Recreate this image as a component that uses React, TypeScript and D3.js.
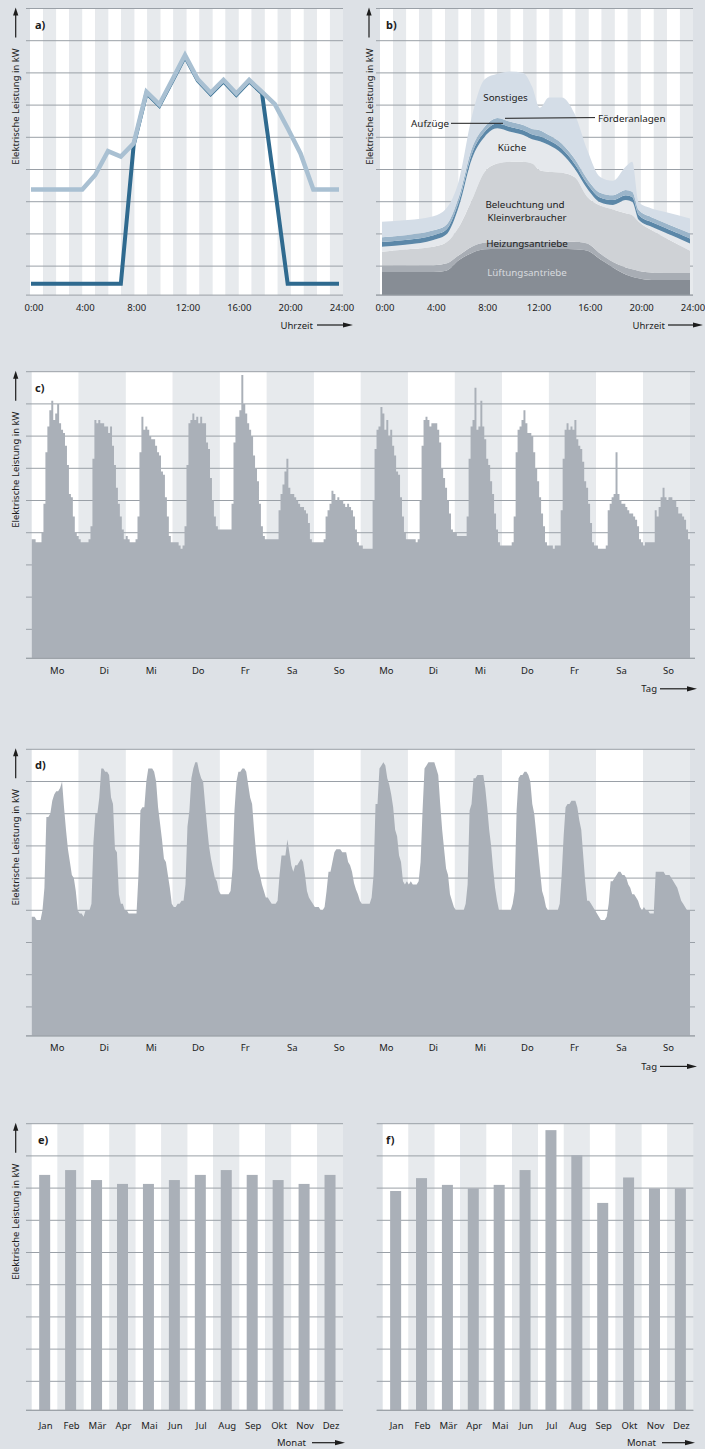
import React from 'react';
import * as d3 from 'd3';

// colours
const BG = '#dde1e6';
const STRIPE = '#e7eaed';
const GRID = '#9aa0a7';
const AREA = '#aab0b8';
const INK = '#1c1c1c';
const FONT = '"Noto Sans", "DejaVu Sans", sans-serif';

const PANEL_H = 286.6; // every plot has the same height
const gridLevels = [0, 0.9, 1.9, 2.9, 3.9, 4.9, 5.9, 6.9, 7.9, 8.9];

// ---------- a) daily profile, hourly ----------
const hoursA = [0, 1, 2, 3, 4, 5, 6, 7, 8, 9, 10, 11, 12, 13, 14, 15, 16, 17, 18, 19, 20, 21, 22, 23, 24];
const loadLight = [3.28, 3.28, 3.28, 3.28, 3.28, 3.73, 4.47, 4.3, 4.71, 6.31, 5.92, 6.68, 7.45, 6.7, 6.28, 6.68, 6.26, 6.68, 6.31, 5.93, 5.18, 4.4, 3.28, 3.28, 3.28];
const loadDark = [0.35, 0.35, 0.35, 0.35, 0.35, 0.35, 0.35, 0.35, 4.66, 6.27, 5.88, 6.64, 7.41, 6.66, 6.24, 6.64, 6.22, 6.64, 6.27, 3.36, 0.35, 0.35, 0.35, 0.35, 0.35];
const hourTicks = [0, 4, 8, 12, 16, 20, 24];
const hourLabels = ['0:00', '4:00', '8:00', '12:00', '16:00', '20:00', '24:00'];

// ---------- b) stacked consumers ----------
const timesB = [0, 2, 4, 5, 6, 7, 8, 9, 10, 11, 11.7, 12.3, 13, 14, 15, 16, 17, 18, 19, 19.5, 20, 21, 22, 24];
const lueftung = [0.72, 0.72, 0.72, 0.76, 1.09, 1.31, 1.42, 1.43, 1.43, 1.43, 1.43, 1.43, 1.43, 1.43, 1.42, 1.38, 1.11, 0.86, 0.64, 0.57, 0.52, 0.47, 0.47, 0.47];
const heizung = [0.21, 0.21, 0.21, 0.22, 0.15, 0.19, 0.21, 0.23, 0.23, 0.23, 0.23, 0.23, 0.23, 0.23, 0.24, 0.22, 0.18, 0.17, 0.22, 0.23, 0.23, 0.23, 0.22, 0.22];
const beleuchtung = [0.42, 0.49, 0.57, 0.65, 0.88, 1.45, 2.2, 2.43, 2.48, 2.48, 2.43, 2.22, 2.17, 2.14, 2.01, 1.45, 1.49, 1.63, 1.68, 1.68, 1.53, 1.32, 1.11, 0.69];
const kueche = [0.15, 0.15, 0.21, 0.25, 0.65, 1.28, 1.09, 1.09, 0.93, 0.83, 0.75, 0.9, 0.83, 0.6, 0.26, 0.25, 0.1, 0.14, 0.41, 0.42, 0.06, 0.1, 0.15, 0.22];
const aufzuege = [0.15, 0.15, 0.15, 0.15, 0.15, 0.15, 0.15, 0.15, 0.15, 0.15, 0.15, 0.15, 0.15, 0.15, 0.15, 0.15, 0.15, 0.15, 0.15, 0.15, 0.15, 0.15, 0.15, 0.16];
const foerder = [0.15, 0.15, 0.15, 0.15, 0.15, 0.17, 0.16, 0.17, 0.16, 0.16, 0.17, 0.19, 0.16, 0.16, 0.16, 0.15, 0.15, 0.15, 0.16, 0.16, 0.15, 0.15, 0.15, 0.16];
const sonstiges = [0.48, 0.46, 0.44, 0.51, 0.5, 0.99, 1.47, 1.37, 1.56, 1.62, 1.31, 0.7, 1.17, 1.43, 1.4, 0.9, 0.49, 0.45, 0.73, 0.93, 0.24, 0.27, 0.34, 0.46];
const layerKeys = ['lueftung', 'heizung', 'beleuchtung', 'kueche', 'aufzuege', 'foerder', 'sonstiges'];
const layerColors = ['#878d95', '#a8adb4', '#cfd2d6', '#e5e8ec', '#5b87a8', '#9bb5ca', '#d4dde7'];

// ---------- c) two weeks, measured (hourly) ----------
const dayLabels = ['Mo', 'Di', 'Mi', 'Do', 'Fr', 'Sa', 'So', 'Mo', 'Di', 'Mi', 'Do', 'Fr', 'Sa', 'So'];
const cMo1 = [3.7, 3.7, 3.6, 3.6, 3.6, 3.9, 4.8, 6.4, 7.2, 7.7, 8.0, 7.4, 7.6, 7.9, 7.3, 7.1, 7.0, 6.6, 6.0, 5.1, 5.0, 4.4, 3.9, 3.8];
const cDi1 = [3.7, 3.6, 3.6, 3.6, 3.6, 3.7, 4.1, 6.2, 7.4, 7.3, 7.4, 7.3, 7.3, 7.2, 7.2, 7.0, 7.2, 6.6, 6.0, 5.3, 4.8, 4.4, 4.0, 3.7];
const cMi1 = [3.8, 3.7, 3.6, 3.6, 3.6, 3.7, 4.4, 6.4, 7.5, 7.1, 7.2, 7.1, 6.9, 6.8, 6.8, 6.6, 6.4, 6.3, 5.8, 5.7, 5.0, 4.4, 3.8, 3.6];
const cDo1 = [3.6, 3.6, 3.6, 3.5, 3.4, 3.5, 4.1, 6.0, 7.3, 7.4, 7.6, 7.4, 7.5, 7.3, 7.5, 7.3, 7.3, 6.7, 6.5, 5.6, 4.9, 4.4, 4.1, 4.0];
const cFr1 = [4.0, 4.0, 4.0, 4.0, 4.0, 4.0, 4.8, 6.7, 7.5, 7.5, 7.7, 8.8, 7.9, 7.6, 7.3, 7.1, 6.9, 6.3, 5.9, 5.5, 4.8, 4.1, 3.8, 3.7];
const cSa1 = [3.7, 3.7, 3.7, 3.7, 3.7, 3.7, 4.6, 5.1, 5.4, 5.8, 6.2, 5.3, 5.1, 5.1, 5.0, 4.9, 4.8, 4.7, 4.7, 4.6, 4.5, 4.2, 3.7, 3.6];
const cSo1 = [3.6, 3.6, 3.6, 3.6, 3.6, 3.7, 4.4, 4.6, 4.8, 5.2, 5.1, 4.9, 5.0, 4.9, 4.9, 4.8, 4.7, 4.8, 4.7, 4.6, 4.4, 4.0, 3.6, 3.5];
const cMo2 = [3.5, 3.4, 3.4, 3.4, 3.4, 3.4, 4.9, 6.5, 7.1, 7.2, 7.8, 7.6, 7.1, 7.4, 6.9, 7.1, 6.6, 6.3, 5.8, 5.7, 5.0, 4.4, 3.9, 3.7];
const cDi2 = [3.7, 3.7, 3.7, 3.7, 3.6, 3.7, 4.9, 6.6, 7.4, 7.5, 7.4, 7.2, 7.3, 7.3, 7.3, 7.1, 6.7, 5.9, 5.6, 5.3, 4.9, 4.5, 4.0, 3.9];
const cMi2 = [3.9, 3.8, 3.8, 3.8, 3.8, 3.8, 4.4, 6.2, 7.2, 7.4, 8.4, 7.1, 7.2, 8.0, 7.2, 6.8, 6.2, 6.0, 5.5, 5.1, 4.5, 4.0, 3.6, 3.5];
const cDo2 = [3.5, 3.5, 3.5, 3.5, 3.5, 3.6, 4.4, 6.4, 7.1, 7.2, 7.4, 7.7, 7.3, 7.0, 7.0, 6.9, 6.4, 5.9, 5.5, 5.0, 4.5, 4.1, 3.6, 3.5];
const cFr2 = [3.5, 3.5, 3.4, 3.5, 3.5, 3.5, 4.6, 6.2, 7.1, 7.3, 7.1, 7.2, 7.1, 7.4, 6.8, 6.6, 6.5, 6.1, 5.5, 5.3, 4.8, 4.2, 3.6, 3.5];
const cSa2 = [3.5, 3.4, 3.4, 3.4, 3.4, 3.5, 4.6, 4.8, 5.0, 5.1, 6.4, 5.1, 4.9, 4.8, 4.8, 4.7, 4.6, 4.5, 4.5, 4.4, 4.3, 4.1, 3.7, 3.6];
const cSo2 = [3.5, 3.6, 3.6, 3.6, 3.6, 3.6, 4.6, 4.4, 4.7, 5.0, 5.3, 5.0, 4.9, 5.0, 5.0, 4.9, 4.9, 4.7, 4.5, 4.5, 4.4, 4.3, 4.0, 3.7];
const loadC = [...cMo1, ...cDi1, ...cMi1, ...cDo1, ...cFr1, ...cSa1, ...cSo1, ...cMo2, ...cDi2, ...cMi2, ...cDo2, ...cFr2, ...cSa2, ...cSo2];

// ---------- d) two weeks, smoothed profile ----------
const dMo1 = [3.7, 3.7, 3.6, 3.6, 3.6, 3.9, 4.6, 6.8, 6.8, 6.9, 7.3, 7.5, 7.6, 7.6, 7.7, 7.9, 7.1, 6.4, 5.8, 5.4, 5.0, 4.9, 4.5, 3.9];
const dDi1 = [3.8, 3.8, 3.7, 3.9, 3.9, 3.9, 4.1, 6.0, 6.9, 6.9, 7.4, 8.3, 8.3, 8.2, 8.2, 8.1, 7.4, 7.2, 5.8, 5.7, 4.4, 4.1, 4.1, 3.9];
const dMi1 = [3.9, 3.8, 3.8, 3.8, 3.8, 3.8, 5.0, 7.0, 7.1, 7.1, 7.9, 8.3, 8.3, 8.3, 8.2, 7.9, 7.1, 6.6, 6.1, 5.5, 5.4, 5.0, 4.6, 4.1];
const dDo1 = [4.0, 4.0, 4.1, 4.1, 4.2, 4.2, 4.7, 6.5, 7.0, 8.0, 8.3, 8.5, 8.5, 8.2, 8.0, 7.9, 7.2, 6.5, 5.9, 5.5, 5.2, 4.9, 4.8, 4.5];
const dFr1 = [4.4, 4.4, 4.4, 4.4, 4.4, 4.5, 5.2, 7.0, 7.9, 8.2, 8.2, 8.3, 8.3, 8.2, 7.8, 7.4, 7.2, 6.4, 5.7, 5.2, 5.0, 4.7, 4.5, 4.3];
const dSa1 = [4.3, 4.2, 4.1, 4.1, 4.1, 4.2, 5.0, 5.6, 5.6, 5.6, 6.1, 5.7, 5.3, 5.1, 5.3, 5.3, 5.4, 5.5, 5.4, 5.0, 4.5, 4.3, 4.2, 4.1];
const dSo1 = [4.0, 4.0, 4.0, 3.9, 3.9, 4.0, 4.5, 5.1, 5.1, 5.4, 5.7, 5.8, 5.8, 5.8, 5.7, 5.7, 5.7, 5.4, 5.3, 5.1, 4.75, 4.55, 4.4, 4.2];
const dMo2 = [4.1, 4.1, 4.1, 4.1, 4.1, 4.3, 5.0, 7.2, 7.2, 8.3, 8.4, 8.5, 8.4, 8.0, 7.8, 7.5, 7.1, 6.4, 6.2, 5.6, 5.4, 4.8, 4.7, 4.8];
const dDi2 = [4.7, 4.8, 4.7, 4.7, 4.7, 4.8, 5.4, 7.0, 8.3, 8.4, 8.5, 8.5, 8.5, 8.5, 8.3, 8.1, 7.2, 6.4, 5.8, 5.2, 5.0, 4.4, 4.2, 4.0];
const dMi2 = [3.9, 3.9, 3.9, 3.9, 3.9, 4.1, 4.7, 7.0, 7.2, 8.0, 8.0, 8.1, 8.1, 8.1, 8.1, 7.7, 7.1, 6.4, 5.9, 5.2, 4.6, 4.2, 3.9, 3.9];
const dDo2 = [3.9, 3.9, 3.9, 3.9, 3.9, 4.1, 4.5, 7.0, 8.0, 8.1, 8.1, 8.2, 8.2, 8.1, 7.9, 7.2, 6.9, 6.3, 5.7, 5.1, 4.5, 4.3, 4.0, 3.9];
const dFr2 = [3.9, 3.9, 3.9, 3.9, 3.9, 4.1, 5.0, 6.2, 7.1, 7.2, 7.2, 7.3, 7.3, 7.3, 7.1, 6.7, 6.4, 5.6, 4.8, 4.2, 4.2, 4.1, 4.0, 3.9];
const dSa2 = [3.8, 3.7, 3.6, 3.6, 3.6, 3.7, 4.1, 4.8, 4.8, 4.9, 5.0, 5.1, 5.1, 5.0, 5.0, 4.9, 4.7, 4.6, 4.4, 4.4, 4.3, 4.2, 4.0, 3.9];
const dSo2 = [4.0, 3.9, 3.9, 3.8, 3.8, 3.8, 5.1, 5.1, 5.1, 5.1, 5.1, 5.0, 5.0, 5.0, 4.9, 4.8, 4.7, 4.6, 4.4, 4.2, 4.1, 4.0, 3.9, 3.9];
const loadD = [...dMo1, ...dDi1, ...dMi1, ...dDo1, ...dFr1, ...dSa1, ...dSo1, ...dMo2, ...dDi2, ...dMi2, ...dDo2, ...dFr2, ...dSa2, ...dSo2];

// ---------- e) f) monthly ----------
const months = ['Jan', 'Feb', 'Mär', 'Apr', 'Mai', 'Jun', 'Jul', 'Aug', 'Sep', 'Okt', 'Nov', 'Dez'];
const monthlyE = [7.31, 7.46, 7.15, 7.03, 7.03, 7.15, 7.31, 7.46, 7.31, 7.15, 7.03, 7.31];
const monthlyF = [6.81, 7.21, 7.0, 6.89, 7.0, 7.46, 8.7, 7.92, 6.44, 7.23, 6.89, 6.89];

const yFor = (top: number) => d3.scaleLinear().domain([0, 8.9]).range([top + PANEL_H, top]);

function Grid({ y, x0, x1 }: any) {
  return (
    <g>
      {gridLevels.map(v => (
        <line key={v} x1={x0} x2={x1} y1={y(v)} y2={y(v)} stroke={GRID} strokeWidth={1} />
      ))}
    </g>
  );
}

function Stripes({ scale, keys, y }: any) {
  return (
    <g>
      {keys.map((k: any, i: number) => (
        <rect key={i} x={scale(k)} y={y(8.9)} width={scale.bandwidth()} height={PANEL_H}
          fill={i % 2 === 0 ? '#ffffff' : STRIPE} />
      ))}
    </g>
  );
}

function YLabel({ x, top }: any) {
  return (
    <g>
      <line x1={x} x2={x} y1={top + 29} y2={top + 5} stroke={INK} strokeWidth={1.2} />
      <path d={`M${x - 2.6},${top + 7} L${x},${top - 1} L${x + 2.6},${top + 7} Z`} fill={INK} />
      <text transform={`translate(${x + 3.5},${top + 98}) rotate(-90)`} textAnchor="middle" fontSize={9.5} fill={INK}>
        Elektrische Leistung in kW
      </text>
    </g>
  );
}

function XLabel({ text, xEnd, y, a0, a1 }: any) {
  return (
    <g>
      <text x={xEnd} y={y + 3.5} textAnchor="end" fontSize={9.5} fill={INK}>{text}</text>
      <line x1={a0} x2={a1 - 8} y1={y} y2={y} stroke={INK} strokeWidth={1.2} />
      <path d={`M${a1 - 10},${y - 2.6} L${a1},${y} L${a1 - 10},${y + 2.6} Z`} fill={INK} />
    </g>
  );
}

function PanelTag({ x, top, text }: any) {
  return <text x={x} y={top + 20} fontSize={11} fontWeight="bold" fill={INK}>{text}</text>;
}

function PanelA() {
  const top = 8.5;
  const y = yFor(top);
  const x = d3.scaleLinear().domain([0, 24]).range([31, 339]);
  const stripes = d3.scaleBand<number>().domain(hoursA.slice(0, 24)).range([30, 343]);
  const line = d3.line<number>().x((_, i) => x(hoursA[i])).y(d => y(d));
  return (
    <g>
      <Stripes scale={stripes} keys={hoursA.slice(0, 24)} y={y} />
      <Grid y={y} x0={26} x1={343} />
      <path d={line(loadDark) || ''} fill="none" stroke="#2f6a8f" strokeWidth={4} />
      <path d={line(loadLight) || ''} fill="none" stroke="#a9c0d2" strokeWidth={4.5} />
      {hourTicks.map((t, i) => (
        <text key={t} x={x(t) + 3} y={top + PANEL_H + 15.5} textAnchor="middle" fontSize={9.5} fill={INK}>{hourLabels[i]}</text>
      ))}
      <PanelTag x={35} top={top} text="a)" />
      <YLabel x={15.7} top={top} />
      <XLabel text="Uhrzeit" xEnd={313} y={325} a0={317} a1={353} />
    </g>
  );
}

function PanelB() {
  const top = 8.5;
  const y = yFor(top);
  const x = d3.scaleLinear().domain([0, 24]).range([382, 690]);
  const stripes = d3.scaleBand<number>().domain(hoursA.slice(0, 24)).range([380, 693]);
  const rows = timesB.map((t, i) => ({
    t, lueftung: lueftung[i], heizung: heizung[i], beleuchtung: beleuchtung[i], kueche: kueche[i],
    aufzuege: aufzuege[i], foerder: foerder[i], sonstiges: sonstiges[i],
  }));
  const series = d3.stack<any>().keys(layerKeys)(rows);
  const area = d3.area<any>()
    .x(d => x(d.data.t))
    .y0(d => y(d[0]))
    .y1(d => y(d[1]))
    .curve(d3.curveMonotoneX);
  return (
    <g>
      <Stripes scale={stripes} keys={hoursA.slice(0, 24)} y={y} />
      <Grid y={y} x0={376} x1={693} />
      {series.map((s, i) => (
        <path key={s.key} d={area(s) || ''} fill={layerColors[i]} />
      ))}
      <line x1={376} x2={693} y1={y(0)} y2={y(0)} stroke={GRID} />
      <g fontSize={9.8} textAnchor="middle" fill={INK}>
        <text x={505.5} y={100.8}>Sonstiges</text>
        <text x={512} y={151.2}>Küche</text>
        <text x={525} y={208.2}>Beleuchtung und</text>
        <text x={527} y={220.6}>Kleinverbraucher</text>
        <text x={527} y={246.8}>Heizungsantriebe</text>
        <text x={527} y={276.2} fill="#d7dade">Lüftungsantriebe</text>
      </g>
      <text x={449} y={126.8} textAnchor="end" fontSize={9.8} fill={INK}>Aufzüge</text>
      <line x1={451} x2={503} y1={123.3} y2={123.3} stroke={INK} strokeWidth={1} />
      <text x={598} y={121.8} fontSize={9.8} fill={INK}>Förderanlagen</text>
      <line x1={505} x2={595} y1={118.3} y2={117.6} stroke={INK} strokeWidth={1} />
      {hourTicks.map((t, i) => (
        <text key={t} x={x(t) + 3} y={top + PANEL_H + 15.5} textAnchor="middle" fontSize={9.5} fill={INK}>{hourLabels[i]}</text>
      ))}
      <PanelTag x={386} top={top} text="b)" />
      <YLabel x={369} top={top} />
      <XLabel text="Uhrzeit" xEnd={665} y={325} a0={668} a1={703} />
    </g>
  );
}

function WeekPanel({ top, values, tag, stepped }: any) {
  const y = yFor(top);
  const x = d3.scaleLinear().domain([0, 336]).range([31.7, 690]);
  const days = d3.scaleBand<number>().domain(dayLabels.map((_, i) => i)).range([31.7, 690]);
  let pts: [number, number][];
  if (stepped) {
    pts = values.map((v: number, i: number) => [i, v]);
    pts.push([336, values[values.length - 1]]);
  } else {
    pts = values.map((v: number, i: number) => [i + 0.5, v]);
    pts.unshift([0, values[0]]);
    pts.push([336, values[values.length - 1]]);
  }
  const area = d3.area<[number, number]>()
    .x(d => x(d[0]))
    .y0(y(0))
    .y1(d => y(d[1]))
    .curve(stepped ? d3.curveStepAfter : d3.curveLinear);
  return (
    <g>
      <Stripes scale={days} keys={dayLabels.map((_, i) => i)} y={y} />
      <Grid y={y} x0={26} x1={695} />
      <path d={area(pts) || ''} fill={AREA} />
      <line x1={26} x2={695} y1={y(0)} y2={y(0)} stroke={GRID} />
      {dayLabels.map((d, i) => (
        <text key={i} x={(days(i) as number) + days.bandwidth() / 2 + 2} y={top + PANEL_H + 15.5}
          textAnchor="middle" fontSize={9.5} fill={INK}>{d}</text>
      ))}
      <PanelTag x={35} top={top} text={tag} />
      <YLabel x={15.7} top={top} />
      <XLabel text="Tag" xEnd={657} y={top + PANEL_H + 30.5} a0={660} a1={697} />
    </g>
  );
}

function MonthPanel({ x0, x1, gx0, values, tag, tagX, withY, labelEnd, a0, a1 }: any) {
  const top = 1123.7;
  const y = yFor(top);
  const x = d3.scaleBand<string>().domain(months).range([x0, x1]);
  const bw = 11;
  return (
    <g>
      <Stripes scale={x} keys={months} y={y} />
      <Grid y={y} x0={gx0} x1={x1} />
      {values.map((v: number, i: number) => (
        <rect key={months[i]} x={(x(months[i]) as number) + x.bandwidth() / 2 - bw / 2} y={y(v)}
          width={bw} height={y(0) - y(v)} fill={AREA} />
      ))}
      <line x1={gx0} x2={x1} y1={y(0)} y2={y(0)} stroke={GRID} />
      {months.map(m => (
        <text key={m} x={(x(m) as number) + x.bandwidth() / 2 + 1} y={top + PANEL_H + 18.5}
          textAnchor="middle" fontSize={9.5} fill={INK}>{m}</text>
      ))}
      <PanelTag x={tagX} top={top} text={tag} />
      {withY && <YLabel x={15.7} top={top} />}
      <XLabel text="Monat" xEnd={labelEnd} y={top + PANEL_H + 32.4} a0={a0} a1={a1} />
    </g>
  );
}

export default function App() {
  return (
    <svg width={705} height={1449} style={{ position: 'absolute', left: 0, top: 0, display: 'block' }}
      fontFamily={FONT}>
      <rect width={705} height={1449} fill={BG} />
      <PanelA />
      <PanelB />
      <WeekPanel top={371.7} values={loadC} tag="c)" stepped />
      <WeekPanel top={749.3} values={loadD} tag="d)" />
      <MonthPanel x0={31.7} x1={343} gx0={26} values={monthlyE} tag="e)" tagX={38} withY labelEnd={306} a0={312} a1={345} />
      <MonthPanel x0={382.7} x1={693.3} gx0={376.7} values={monthlyF} tag="f)" tagX={386} labelEnd={656} a0={662} a1={695} />
    </svg>
  );
}
